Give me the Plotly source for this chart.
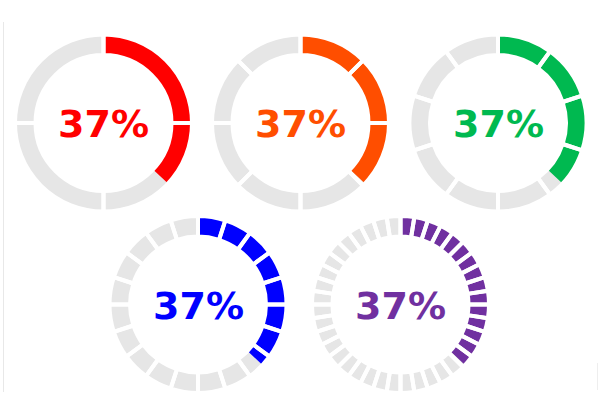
import plotly.graph_objects as go

# Data
gauge_values = [37, 37, 37, 37, 37]          # percent filled
segment_counts = [4, 8, 10, 20, 40]          # segments per ring
fill_colors = ["#FF0000", "#FF4E00", "#00B950", "#0000FF", "#7030A0"]
track_color = "#E6E6E6"

# Layout (pixel centres of each ring)
W, H = 601, 415
centers = [(103.5, 123), (300.5, 123), (498, 123), (198, 304.5), (400.5, 304.5)]
R = 88.5          # outer radius incl. border overlap
hole = 0.768
gap = 4

fig = go.Figure()
for i, (val, n, col) in enumerate(zip(gauge_values, segment_counts, fill_colors)):
    cx, cy = centers[i]
    dom = dict(x=[(cx - R) / W, (cx + R) / W],
               y=[(H - cy - R) / H, (H - cy + R) / H])
    common = dict(domain=dom, hole=hole, sort=False, direction="clockwise",
                  rotation=0, textinfo="none", hoverinfo="skip", showlegend=False)
    # background track
    fig.add_trace(go.Pie(values=[1] * n, labels=[f"t{i}_{k}" for k in range(n)],
                         marker=dict(colors=[track_color] * n, line=dict(width=0)),
                         **common))
    # filled part
    fig.add_trace(go.Pie(values=[val, 100 - val], labels=[f"f{i}", f"r{i}"],
                         marker=dict(colors=[col, "rgba(0,0,0,0)"], line=dict(width=0)),
                         **common))
    # segment gaps
    fig.add_trace(go.Pie(values=[1] * n, labels=[f"g{i}_{k}" for k in range(n)],
                         marker=dict(colors=["rgba(0,0,0,0)"] * n,
                                     line=dict(color="white", width=gap)),
                         **common))
    fig.add_annotation(x=cx / W, y=(H - cy - 1) / H, xref="paper", yref="paper",
                       xanchor="center", yanchor="middle",
                       text=f"{val}%", showarrow=False,
                       font=dict(family="DejaVu Sans", size=38, color=col, weight="bold"))

fig.add_shape(type="line", xref="paper", yref="paper",
              x0=3.5 / W, x1=3.5 / W, y0=(H - 392) / H, y1=(H - 22) / H,
              line=dict(color="#E8E8E8", width=1))
fig.add_shape(type="line", xref="paper", yref="paper",
              x0=597.5 / W, x1=597.5 / W, y0=(H - 390) / H, y1=(H - 363) / H,
              line=dict(color="#EEEEEE", width=1))

fig.update_layout(width=W, height=H, margin=dict(l=0, r=0, t=0, b=0),
                  paper_bgcolor="white", plot_bgcolor="white")
fig.write_html("out.html", config={"displayModeBar": False},
               post_script="document.body.style.margin='0';document.body.style.overflow='hidden';")
